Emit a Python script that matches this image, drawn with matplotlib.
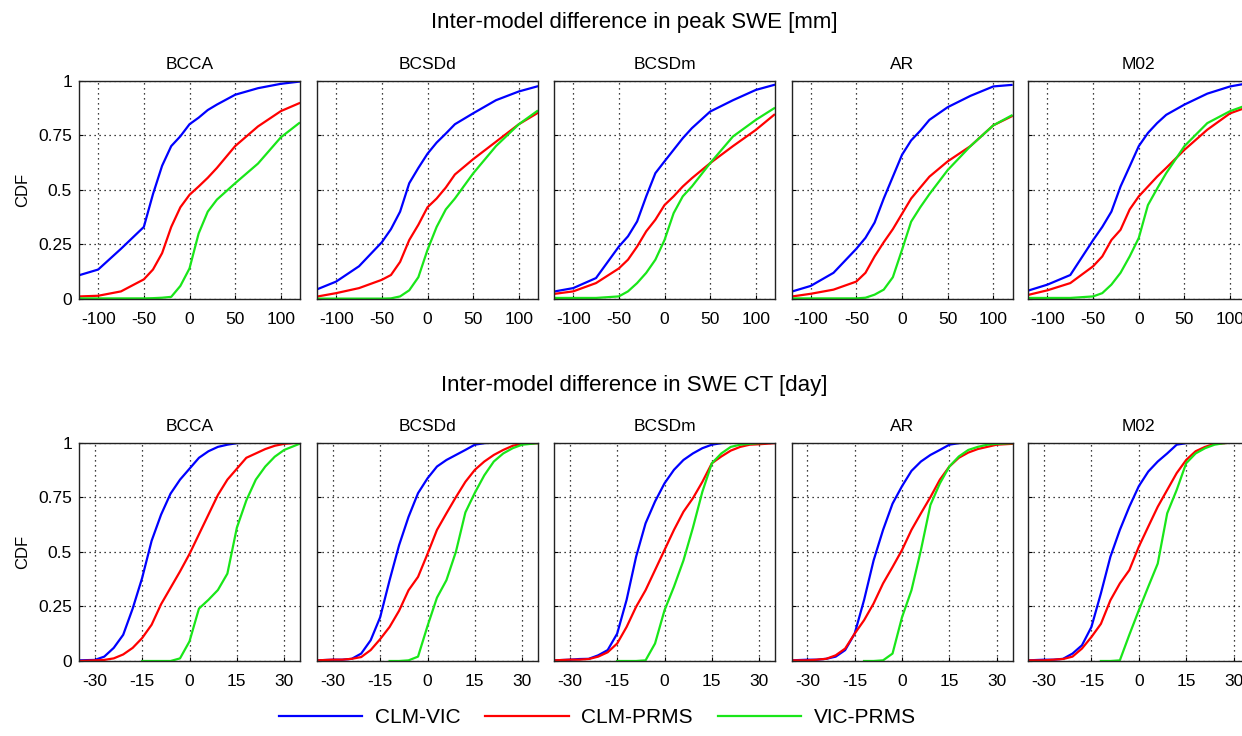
import numpy as np
import matplotlib
matplotlib.use("Agg")
import matplotlib.pyplot as plt

plt.rcParams["font.family"] = ["Liberation Sans", "DejaVu Sans"]
plt.rcParams["axes.unicode_minus"] = False

methods = ["BCCA", "BCSDd", "BCSDm", "AR", "M02"]
series_names = ["CLM-VIC", "CLM-PRMS", "VIC-PRMS"]
series_colors = ["#0000ff", "#ff0000", "#19e619"]
nan = np.nan

# peak SWE differences [mm]
swe_x = [-120, -100, -75, -50, -40, -30, -20, -10, 0, 10, 20, 30, 50, 75, 100, 120]
swe_clm_vic = [
    [0.11, 0.135, 0.23, 0.33, 0.48, 0.61, 0.70, 0.745, 0.80, 0.83, 0.865, 0.89, 0.935, 0.965, 0.985, 0.995],
    [0.046, 0.08, 0.15, 0.26, 0.32, 0.40, 0.53, 0.60, 0.665, 0.716, 0.757, 0.80, 0.85, 0.91, 0.95, 0.973],
    [0.035, 0.05, 0.096, 0.24, 0.287, 0.355, 0.47, 0.576, 0.63, 0.683, 0.736, 0.782, 0.858, 0.91, 0.957, 0.98],
    [0.035, 0.06, 0.12, 0.23, 0.28, 0.35, 0.46, 0.56, 0.66, 0.726, 0.77, 0.82, 0.878, 0.93, 0.973, 0.98],
    [0.04, 0.066, 0.11, 0.27, 0.33, 0.40, 0.515, 0.607, 0.70, 0.76, 0.805, 0.843, 0.89, 0.94, 0.973, 0.988],
]
swe_clm_prms = [
    [0.012, 0.015, 0.035, 0.09, 0.135, 0.21, 0.33, 0.42, 0.477, 0.515, 0.555, 0.60, 0.70, 0.79, 0.86, 0.896],
    [0.012, 0.027, 0.05, 0.088, 0.11, 0.17, 0.27, 0.34, 0.42, 0.46, 0.51, 0.57, 0.64, 0.72, 0.80, 0.85],
    [0.024, 0.035, 0.073, 0.14, 0.18, 0.24, 0.31, 0.363, 0.43, 0.47, 0.515, 0.553, 0.622, 0.70, 0.774, 0.843],
    [0.012, 0.024, 0.043, 0.08, 0.12, 0.195, 0.26, 0.32, 0.39, 0.46, 0.51, 0.56, 0.63, 0.70, 0.795, 0.836],
    [0.02, 0.04, 0.073, 0.15, 0.195, 0.27, 0.317, 0.41, 0.47, 0.515, 0.56, 0.60, 0.683, 0.775, 0.85, 0.88],
]
swe_vic_prms = [
    [0.003, 0.003, 0.003, 0.003, 0.004, 0.006, 0.01, 0.06, 0.14, 0.30, 0.40, 0.455, 0.53, 0.62, 0.74, 0.805],
    [0.002, 0.002, 0.002, 0.002, 0.003, 0.012, 0.04, 0.10, 0.225, 0.33, 0.41, 0.46, 0.575, 0.70, 0.80, 0.86],
    [0.005, 0.005, 0.005, 0.012, 0.035, 0.073, 0.12, 0.18, 0.27, 0.393, 0.47, 0.515, 0.622, 0.744, 0.82, 0.873],
    [0.003, 0.003, 0.003, 0.003, 0.006, 0.02, 0.043, 0.10, 0.225, 0.354, 0.42, 0.48, 0.59, 0.70, 0.795, 0.84],
    [0.005, 0.005, 0.005, 0.012, 0.027, 0.066, 0.12, 0.195, 0.28, 0.43, 0.505, 0.576, 0.70, 0.805, 0.86, 0.89],
]

# SWE CT differences [day]
ct_x = [-35, -30, -27, -24, -21, -18, -15, -12, -9, -6, -3, 0, 3, 6, 9, 12, 15, 18, 21, 24, 27, 30, 35]
ct_clm_vic = [
    [0.003, 0.005, 0.02, 0.06, 0.12, 0.24, 0.38, 0.55, 0.67, 0.766, 0.83, 0.88, 0.93, 0.96, 0.98, 0.99, 0.997, 1, 1, 1, 1, 1, 1],
    [0.003, 0.006, 0.006, 0.01, 0.034, 0.095, 0.20, 0.37, 0.53, 0.66, 0.768, 0.836, 0.89, 0.92, 0.943, 0.966, 0.99, 0.997, 1, 1, 1, 1, 1],
    [0.003, 0.006, 0.009, 0.01, 0.026, 0.05, 0.125, 0.28, 0.477, 0.63, 0.73, 0.813, 0.875, 0.92, 0.95, 0.974, 0.99, 0.997, 1, 1, 1, 1, 1],
    [0.003, 0.006, 0.006, 0.01, 0.02, 0.05, 0.125, 0.28, 0.46, 0.60, 0.72, 0.80, 0.87, 0.913, 0.943, 0.966, 0.99, 0.997, 1, 1, 1, 1, 1],
    [0.003, 0.006, 0.006, 0.01, 0.034, 0.072, 0.156, 0.31, 0.477, 0.60, 0.706, 0.80, 0.867, 0.913, 0.95, 0.99, 0.997, 1, 1, 1, 1, 1, 1],
]
ct_clm_prms = [
    [0.0, 0.003, 0.005, 0.012, 0.03, 0.06, 0.105, 0.166, 0.26, 0.335, 0.41, 0.49, 0.58, 0.67, 0.76, 0.83, 0.88, 0.93, 0.95, 0.97, 0.985, 0.994, 1],
    [0.003, 0.006, 0.006, 0.01, 0.018, 0.05, 0.10, 0.156, 0.23, 0.324, 0.385, 0.49, 0.60, 0.676, 0.75, 0.82, 0.875, 0.913, 0.943, 0.966, 0.985, 0.994, 0.997],
    [0.003, 0.006, 0.006, 0.009, 0.02, 0.04, 0.08, 0.156, 0.248, 0.324, 0.416, 0.508, 0.60, 0.683, 0.745, 0.82, 0.905, 0.936, 0.963, 0.98, 0.99, 0.992, 0.997],
    [0.003, 0.003, 0.006, 0.01, 0.026, 0.057, 0.125, 0.187, 0.263, 0.355, 0.43, 0.508, 0.60, 0.676, 0.75, 0.83, 0.89, 0.93, 0.954, 0.97, 0.98, 0.99, 0.994],
    [0.003, 0.003, 0.006, 0.009, 0.02, 0.057, 0.11, 0.17, 0.278, 0.355, 0.416, 0.523, 0.615, 0.706, 0.783, 0.86, 0.92, 0.96, 0.98, 0.994, 0.997, 1, 1],
]
ct_vic_prms = [
    [nan, nan, nan, nan, nan, nan, 0, 0, 0, 0, 0.012, 0.09, 0.24, 0.28, 0.325, 0.40, 0.61, 0.735, 0.83, 0.89, 0.935, 0.966, 0.995],
    [nan, nan, nan, nan, nan, nan, nan, 0, 0, 0.003, 0.02, 0.16, 0.29, 0.37, 0.50, 0.68, 0.77, 0.85, 0.913, 0.95, 0.974, 0.99, 0.997],
    [nan, nan, nan, nan, nan, nan, 0, 0, 0, 0.003, 0.08, 0.232, 0.34, 0.46, 0.61, 0.775, 0.905, 0.95, 0.98, 0.99, 0.994, 0.997, 1],
    [nan, nan, nan, nan, nan, nan, nan, 0, 0, 0.003, 0.034, 0.20, 0.324, 0.508, 0.714, 0.813, 0.89, 0.936, 0.966, 0.98, 0.99, 0.994, 0.997],
    [nan, nan, nan, nan, nan, nan, nan, 0, 0, 0.003, 0.12, 0.232, 0.34, 0.446, 0.676, 0.783, 0.905, 0.95, 0.974, 0.99, 0.997, 1, 1],
]

rows = [
    dict(x=swe_x, data=[swe_clm_vic, swe_clm_prms, swe_vic_prms], xlim=(-121, 121),
         xticks=[-100, -50, 0, 50, 100], title="Inter-model difference in peak SWE [mm]",
         bottom=0.5937, title_y=0.969),
    dict(x=ct_x, data=[ct_clm_vic, ct_clm_prms, ct_vic_prms], xlim=(-35, 35),
         xticks=[-30, -15, 0, 15, 30], title="Inter-model difference in SWE CT [day]",
         bottom=0.1019, title_y=0.476),
]

W, H = 1242, 736
fig = plt.figure(figsize=(W / 100, H / 100), dpi=100)

lefts = [79, 317, 554, 791.5, 1028.3]
ax_w = 221 / W
ax_h = 218.5 / H

handles = []
for row in rows:
    for j, name in enumerate(methods):
        ax = fig.add_axes([lefts[j] / W, row["bottom"], ax_w, ax_h])
        for k in range(3):
            ln, = ax.plot(row["x"], row["data"][k][j], color=series_colors[k], lw=1.6)
            if len(handles) < 3:
                handles.append(ln)
        ax.set_xlim(*row["xlim"])
        ax.set_ylim(0, 1)
        ax.set_xticks(row["xticks"])
        ax.set_yticks([0, 0.25, 0.5, 0.75, 1])
        ax.grid(True, color="black", linestyle=(0, (1, 3)), linewidth=0.9)
        ax.tick_params(direction="in", length=3, labelsize=12.5, pad=9)
        ax.tick_params(axis="y", pad=5)
        for sp in ax.spines.values():
            sp.set_linewidth(1.0)
            sp.set_color("#222222")
        if j == 0:
            ax.set_yticklabels(["0", "0.25", "0.5", "0.75", "1"])
            ax.set_ylabel("CDF", fontsize=12, labelpad=6)
        else:
            ax.set_yticklabels([])
        ax.set_title(name, fontsize=12.5, pad=8)
    fig.text(0.511, row["title_y"], row["title"], ha="center", va="center", fontsize=16)

fig.legend(handles, series_names, loc="center", bbox_to_anchor=(0.481, 0.025), ncol=3,
           frameon=False, fontsize=15, handlelength=4, columnspacing=1.2, handletextpad=0.6)

fig.savefig("out.png", dpi=100)
